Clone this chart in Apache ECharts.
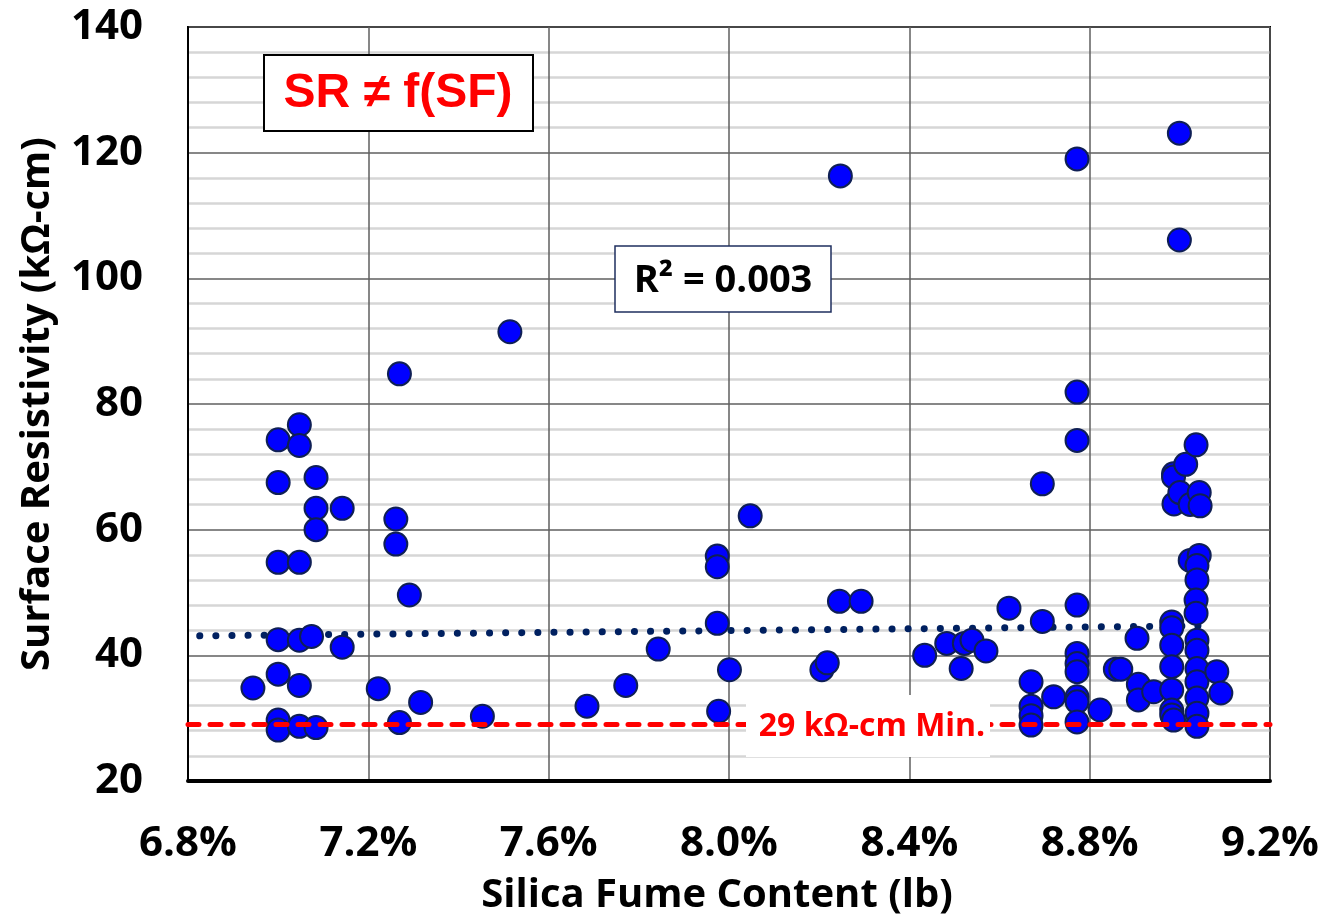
<!DOCTYPE html>
<html>
<head>
<meta charset="utf-8">
<script src="https://cdn.jsdelivr.net/npm/echarts@6/dist/echarts.min.js"></script>
<style>
  html, body { margin: 0; padding: 0; background: #fff; }
  #chart { width: 1323px; height: 921px; }
</style>
</head>
<body>
<div id="chart"></div>
<script>
// silica fume content (%) and surface resistivity (kOhm-cm)
const silicaFume = [
  6.944, 7.000, 7.000, 7.000, 7.000, 7.000, 7.000, 7.000,
  7.047, 7.047, 7.047, 7.047, 7.047, 7.047, 7.074,
  7.084, 7.084, 7.084, 7.084, 7.142, 7.142,
  7.222, 7.261, 7.261, 7.269, 7.269, 7.291, 7.316, 7.453, 7.514,
  7.685, 7.771, 7.843, 7.974, 7.974, 7.974, 7.977, 8.001, 8.047,
  8.206, 8.218, 8.245, 8.247, 8.293,
  8.434, 8.483, 8.515, 8.522, 8.539, 8.570, 8.621,
  8.670, 8.670, 8.670, 8.670, 8.695, 8.695, 8.720,
  8.772, 8.772, 8.772, 8.772, 8.772, 8.772, 8.772, 8.772, 8.772, 8.772,
  8.823, 8.857, 8.869, 8.905, 8.908, 8.908, 8.942,
  8.999, 8.999, 8.986, 8.986, 8.987, 9.000,
  8.982, 8.982, 8.982, 8.982, 8.982, 8.982, 8.982, 8.986,
  9.013, 9.023, 9.023,
  9.036, 9.043, 9.045, 9.043, 9.038, 9.038, 9.036, 9.036,
  9.038, 9.038, 9.038, 9.038, 9.038, 9.038, 9.038,
  9.082, 9.091
];
const resistivity = [
  34.8, 74.3, 67.5, 54.8, 42.5, 37.0, 29.7, 28.1,
  76.7, 73.4, 54.8, 42.4, 35.2, 28.7, 43.0,
  68.3, 63.4, 60.0, 28.5, 63.4, 41.3,
  34.7, 61.7, 57.7, 84.8, 29.3, 49.6, 32.5, 30.3, 91.5,
  31.9, 35.2, 41.0, 55.8, 54.1, 45.1, 31.1, 37.7, 62.2,
  37.7, 38.8, 48.6, 116.3, 48.6,
  40.0, 41.9, 37.9, 41.9, 42.4, 40.7, 47.5,
  35.8, 31.9, 30.4, 28.9, 67.3, 45.4, 33.4,
  119.0, 81.9, 74.2, 48.0, 40.3, 38.7, 37.4, 33.4, 32.6, 29.4,
  31.3, 37.8, 37.8, 42.7, 35.4, 32.9, 34.2,
  123.1, 106.1, 68.9, 68.4, 64.1, 65.9,
  45.3, 44.4, 41.6, 38.2, 34.5, 31.3, 30.5, 29.7,
  70.4, 64.0, 55.1,
  73.5, 65.9, 63.8, 55.9, 54.3, 52.0, 48.8, 46.7,
  42.4, 40.8, 37.9, 35.8, 33.2, 30.8, 28.7,
  37.4, 34.0
];
// linear trendline ends as drawn
const trendX = [6.826, 9.064];
const trendY = [43.1, 44.7];
const minLimit = 29;

const chart = echarts.init(document.getElementById('chart'));
const font = '"Open Sans", "Liberation Sans", sans-serif';

const option = {
  animation: false,
  backgroundColor: '#fff',
  grid: {
    left: 188, right: 53, top: 27, bottom: 138,
    show: true, borderColor: '#000', borderWidth: 2
  },
  xAxis: {
    type: 'value',
    min: 6.8, max: 9.2, interval: 0.4,
    name: 'Silica Fume Content (lb)',
    nameLocation: 'middle',
    nameGap: 95,
    nameTextStyle: {
      fontFamily: font, fontWeight: 'bold', fontSize: 40, color: '#000',
      padding: [0, 24, 0, 0]
    },
    axisLine: { lineStyle: { color: '#000', width: 4 } },
    axisTick: { show: false },
    axisLabel: {
      margin: 42,
      fontFamily: font, fontWeight: 'bold', fontSize: 42, color: '#000',
      formatter: v => v.toFixed(1) + '%'
    },
    splitLine: { lineStyle: { color: '#5f5f5f', width: 1.5 } }
  },
  yAxis: {
    type: 'value',
    min: 20, max: 140, interval: 20,
    name: 'Surface Resistivity (kΩ-cm)',
    nameLocation: 'middle',
    nameGap: 130,
    nameTextStyle: { fontFamily: font, fontWeight: 'bold', fontSize: 40, color: '#000' },
    axisLine: { show: true, lineStyle: { color: '#000', width: 2 } },
    axisTick: { show: false },
    axisLabel: {
      margin: 45,
      fontFamily: font, fontWeight: 'bold', fontSize: 42, color: '#000'
    },
    splitLine: { lineStyle: { color: '#5f5f5f', width: 1.5 } },
    minorTick: { show: false, splitNumber: 5 },
    minorSplitLine: { show: true, lineStyle: { color: '#d6d6d6', width: 2.5 } }
  },
  series: [
    {
      type: 'line',
      data: trendX.map((x, i) => [x, trendY[i]]),
      showSymbol: false,
      silent: true,
      z: 3,
      lineStyle: { color: '#002060', width: 7, type: [0.1, 16], cap: 'round' }
    },
    {
      type: 'scatter',
      data: silicaFume.map((x, i) => [x, resistivity[i]]),
      symbolSize: 23,
      z: 4,
      itemStyle: { color: '#0000ff', borderColor: '#0f1f55', borderWidth: 2, opacity: 1 },
      markLine: {
        silent: true,
        symbol: 'none',
        label: { show: false },
        lineStyle: { color: '#ff0000', width: 5, type: [11, 11], cap: 'round' },
        data: [{ yAxis: minLimit }]
      }
    }
  ],
  graphic: [
    {
      type: 'rect', z: 100,
      shape: { x: 264, y: 55, width: 269, height: 76 },
      style: { fill: '#fff', stroke: '#000', lineWidth: 2 }
    },
    {
      type: 'text', z: 101, x: 398, y: 94,
      style: {
        text: 'SR ≠ f(SF)', fill: '#ff0000', align: 'center', verticalAlign: 'middle',
        font: 'bold 48px "Liberation Sans", Arial, sans-serif'
      }
    },
    {
      type: 'rect', z: 100,
      shape: { x: 615, y: 246, width: 216, height: 66 },
      style: { fill: '#fff', stroke: '#1f2f5f', lineWidth: 1.5 }
    },
    {
      type: 'text', z: 101, x: 723, y: 281,
      style: {
        text: 'R² = 0.003', fill: '#000', align: 'center', verticalAlign: 'middle',
        font: 'bold 38px ' + font
      }
    },
    {
      type: 'rect', z: 100,
      shape: { x: 746, y: 695, width: 244, height: 62 },
      style: { fill: '#fff' }
    },
    {
      type: 'text', z: 101, x: 872, y: 727,
      style: {
        text: '29 kΩ-cm Min.', fill: '#ff0000', align: 'center', verticalAlign: 'middle',
        font: 'bold 32px ' + font
      }
    }
  ]
};

chart.setOption(option);
</script>
</body>
</html>
